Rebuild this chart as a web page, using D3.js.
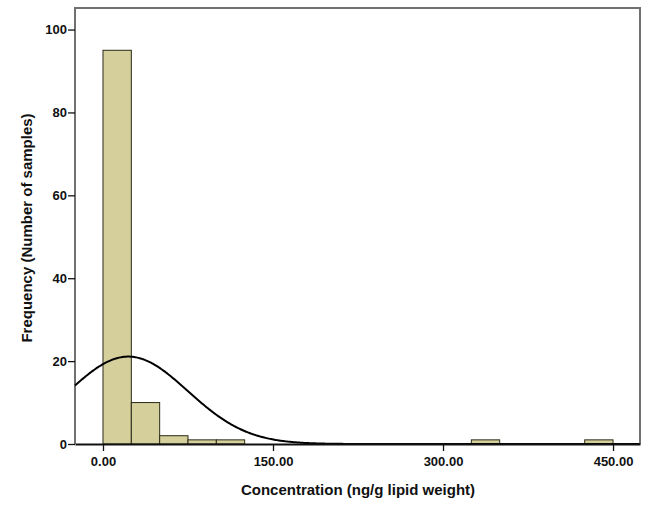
<!DOCTYPE html>
<html>
<head>
<meta charset="utf-8">
<script src="https://cdn.jsdelivr.net/npm/d3@7"></script>
<style>
  body { margin: 0; background: #fff; }
  text { font-family: "Liberation Sans", Arial, sans-serif; font-weight: bold; fill: #111; }
</style>
</head>
<body>
<div id="chart"></div>
<script>
// histogram bins (lower edge, upper edge) and counts
var binStarts = [0, 25, 50, 75, 100, 325, 425];
var binEnds = [25, 50, 75, 100, 125, 350, 450];
var counts = [95, 10, 2, 1, 1, 1, 1];
var xTicks = [0, 150, 300, 450];
var yTicks = [0, 20, 40, 60, 80, 100];

// fitted normal curve
var mean = 22.3, sd = 52.5, binWidth = 25;
var total = d3.sum(counts);

var width = 657, height = 515;
var margin = { top: 8, right: 17, bottom: 71, left: 75 };

var svg = d3.select('#chart').append('svg')
    .attr('width', width)
    .attr('height', height);

var x = d3.scaleLinear()
    .domain([-24.7, 473.8])
    .range([margin.left, width - margin.right]);

var y = d3.scaleLinear()
    .domain([0, 105.2])
    .range([height - margin.bottom, margin.top]);

var bins = binStarts.map(function (s, i) { return { x0: s, x1: binEnds[i], n: counts[i] }; });

// frame
svg.append('path')
    .attr('fill', 'none')
    .attr('stroke', '#707070')
    .attr('stroke-width', 2)
    .attr('d', 'M' + x.range()[0] + ',' + y(0) + 'V' + y.range()[1] + 'H' + x.range()[1] + 'V' + y(0));

svg.append('g').selectAll('rect')
    .data(bins)
    .enter().append('rect')
    .attr('x', function (d) { return x(d.x0); })
    .attr('y', function (d) { return y(d.n); })
    .attr('width', function (d) { return x(d.x1) - x(d.x0); })
    .attr('height', function (d) { return y(0) - y(d.n); })
    .attr('fill', '#d4cf9b')
    .attr('stroke', '#2a2a1a')
    .attr('stroke-width', 1);

var curve = d3.range(x.domain()[0], x.domain()[1], 1).map(function (v) {
    var z = (v - mean) / sd;
    return [v, total * binWidth / (sd * Math.sqrt(2 * Math.PI)) * Math.exp(-0.5 * z * z)];
});

svg.append('path')
    .datum(curve)
    .attr('fill', 'none')
    .attr('stroke', '#000')
    .attr('stroke-width', 2)
    .attr('d', d3.line()
        .x(function (d) { return x(d[0]); })
        .y(function (d) { return y(d[1]); }));

var xAxis = svg.append('g')
    .attr('transform', 'translate(0,' + y(0) + ')')
    .call(d3.axisBottom(x).tickValues(xTicks).tickFormat(d3.format('.2f')).tickSize(7).tickSizeOuter(0));
xAxis.select('.domain').attr('stroke', '#111').attr('stroke-width', 2);
xAxis.selectAll('text').attr('font-size', 13).attr('dy', '0.95em').style('font-family', '"Liberation Sans", Arial, sans-serif');

var yAxis = svg.append('g')
    .attr('transform', 'translate(' + margin.left + ',0)')
    .call(d3.axisLeft(y).tickValues(yTicks).tickSize(7).tickSizeOuter(0));
yAxis.select('.domain').remove();
yAxis.selectAll('text').attr('font-size', 13).attr('x', -8).style('font-family', '"Liberation Sans", Arial, sans-serif');
svg.selectAll('.tick line').attr('stroke', '#111').attr('stroke-width', 1.3);

svg.append('text')
    .attr('x', 358)
    .attr('y', 495)
    .attr('text-anchor', 'middle')
    .attr('font-size', 15)
    .text('Concentration (ng/g lipid weight)');

svg.append('text')
    .attr('transform', 'translate(32,228) rotate(-90)')
    .attr('text-anchor', 'middle')
    .attr('font-size', 15)
    .text('Frequency (Number of samples)');
</script>
</body>
</html>
